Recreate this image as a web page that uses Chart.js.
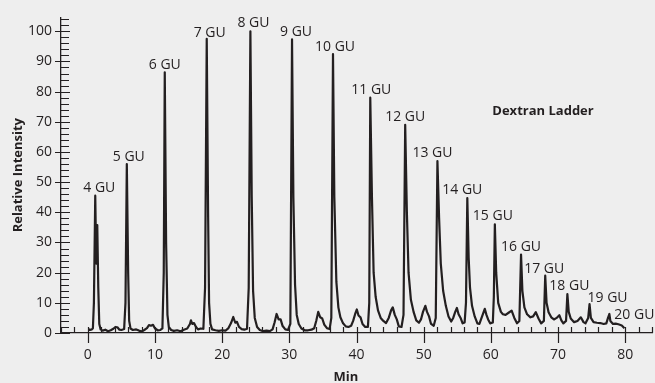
<!DOCTYPE html>
<html>
<head>
<meta charset="utf-8">
<script src="https://cdn.jsdelivr.net/npm/chart.js@4.4.1/dist/chart.umd.min.js"></script>
<style>
  html, body { margin: 0; padding: 0; background: #eeeeee; }
  canvas { display: block; }
</style>
</head>
<body>
<canvas id="ladder" width="655" height="383"></canvas>
<script>
var tiempos = [
  0.1, 0.3, 0.6, 0.75, 0.9, 1.1, 1.25, 1.4, 1.55, 1.7, 1.9, 2.2, 2.6, 3.0, 3.4, 3.8, 4.1, 4.4, 4.7, 5.0,
  5.4, 5.6, 5.8, 6.0, 6.15, 6.35, 6.7, 7.2, 7.6, 8.0, 8.4, 8.8, 9.1, 9.4, 9.7, 10.0, 10.4, 10.8, 11.1, 11.3,
  11.45, 11.65, 11.85, 12.05, 12.4, 12.8, 13.3, 13.8, 14.3, 14.8, 15.2, 15.35, 15.55, 15.8, 16.1, 16.4, 16.8, 17.2, 17.45, 17.7,
  17.9, 18.05, 18.25, 18.5, 19.0, 19.5, 20.0, 20.5, 20.9, 21.3, 21.65, 21.95, 22.2, 22.5, 22.9, 23.3, 23.7, 23.95, 24.2, 24.4,
  24.6, 24.85, 25.2, 25.6, 26.1, 26.6, 27.1, 27.5, 27.8, 28.1, 28.4, 28.7, 29.0, 29.4, 29.8, 30.15, 30.4, 30.6, 30.85, 31.1,
  31.4, 31.8, 32.3, 32.8, 33.3, 33.7, 34.0, 34.3, 34.6, 34.9, 35.2, 35.6, 36.0, 36.25, 36.5, 36.7, 37.0, 37.3, 37.6, 38.0,
  38.4, 38.8, 39.2, 39.5, 39.8, 40.05, 40.3, 40.6, 40.9, 41.3, 41.7, 41.9, 42.05, 42.3, 42.55, 42.85, 43.2, 43.6, 44.0, 44.4,
  44.8, 45.15, 45.4, 45.7, 46.0, 46.3, 46.7, 47.0, 47.25, 47.5, 47.75, 48.1, 48.5, 48.9, 49.3, 49.6, 49.9, 50.25, 50.5, 50.8,
  51.1, 51.5, 51.8, 52.05, 52.3, 52.55, 52.9, 53.3, 53.7, 54.1, 54.4, 54.7, 54.95, 55.2, 55.5, 55.8, 56.1, 56.3, 56.5, 56.7,
  56.9, 57.2, 57.6, 58.0, 58.3, 58.7, 59.1, 59.35, 59.6, 59.9, 60.3, 60.45, 60.6, 60.8, 61.1, 61.5, 61.8, 62.2, 62.7, 63.1,
  63.5, 63.9, 64.25, 64.5, 64.7, 65.0, 65.4, 65.9, 66.3, 66.7, 67.1, 67.5, 67.9, 68.1, 68.3, 68.6, 69.0, 69.4, 69.8, 70.2,
  70.5, 70.8, 71.2, 71.4, 71.6, 71.9, 72.4, 72.9, 73.4, 73.8, 74.1, 74.5, 74.7, 74.9, 75.3, 75.8, 76.3, 76.8, 77.2, 77.45,
  77.65, 77.8, 78.2, 78.6, 79.0, 79.5, 79.9
];
var intensidad = [
  1.3, 1.0, 1.2, 1.6, 10, 45.5, 23, 35.8, 15, 3, 1.2, 0.8, 1.1, 0.6, 0.9, 1.4, 2.0, 1.9, 1.1, 1.0,
  1.3, 10, 56, 20, 4, 1.5, 1.0, 1.2, 0.8, 0.5, 1.0, 1.6, 2.6, 2.4, 2.7, 1.5, 0.9, 1.0, 1.5, 20,
  86.4, 30, 6, 2, 1.0, 0.7, 0.9, 0.6, 1.1, 1.5, 3.0, 4.2, 3.0, 3.3, 2.0, 1.2, 1.5, 1.4, 15, 97.5,
  40, 10, 3, 1.2, 0.9, 0.7, 0.9, 0.8, 1.5, 3.2, 5.3, 3.4, 3.7, 2.0, 1.3, 1.1, 1.4, 15, 100, 45,
  14, 5, 2, 1.0, 0.6, 0.8, 0.6, 1.2, 3.5, 6.3, 4.5, 4.5, 2.3, 1.2, 1.0, 3, 97.3, 45, 16, 6,
  3, 1.5, 0.9, 0.9, 1.1, 1.6, 4, 7.0, 5.2, 4.8, 2.8, 1.6, 1.3, 5, 92.4, 45, 17, 8.5, 5.2, 3.2,
  2.2, 2.0, 2.4, 4, 6.3, 7.8, 5.8, 5.2, 3.0, 2.0, 2.0, 10, 78, 45, 20, 12, 7.5, 5, 4.0, 3.3,
  5, 7.5, 8.5, 6.0, 4.5, 2.2, 2.0, 6, 69, 40, 20, 11, 7, 4.2, 3.4, 4.5, 7, 9.0, 7.0, 5.5,
  3.0, 2.4, 5, 57, 38, 23, 14, 9, 5.5, 3.8, 5, 7, 8.3, 6.2, 5.0, 3.2, 3.5, 10, 44.7, 25,
  15, 9, 5.5, 3.2, 3.0, 5.5, 8, 6, 4.5, 3.2, 3.5, 12, 36, 20, 10, 7.0, 6.2, 6.0, 6.8, 7.4,
  5.0, 3.2, 4, 26, 14, 8.5, 6.2, 5.2, 5.5, 6.9, 4.8, 3.2, 4, 19, 10, 6.9, 5.2, 4.5, 5.0, 5.9,
  4.2, 3.2, 4, 12.9, 7, 4.8, 3.6, 4.0, 5.2, 3.6, 3.2, 5, 9.6, 5, 3.6, 3.4, 3.3, 3.0, 3.2, 5,
  6.3, 4, 3.0, 3.1, 2.9, 2.5, 1.6
];

// Etiquetas de cada pico (unidades de glucosa) y su tiempo aproximado
var picosGU = ["4 GU", "5 GU", "6 GU", "7 GU", "8 GU", "9 GU", "10 GU", "11 GU", "12 GU",
  "13 GU", "14 GU", "15 GU", "16 GU", "17 GU", "18 GU", "19 GU", "20 GU"];
var tiemposGU = [1.1, 5.8, 11.45, 17.7, 24.2, 30.4, 36.5, 42.05, 47.25, 52.05, 56.5, 60.6, 64.5, 68.1, 71.4, 74.7, 77.65];

// Marcas de los ejes
var ticksX = [0, 10, 20, 30, 40, 50, 60, 70, 80];
var ticksY = [0, 10, 20, 30, 40, 50, 60, 70, 80, 90, 100];

var tinta = "#231f20";
var fuente = "'Open Sans', 'Noto Sans', sans-serif";

// desplazamiento (px) de cada etiqueta respecto a la cima del pico
var ajusteEtiqueta = [
  [4, -8], [2, -7], [0, -7], [3, -6], [3, -8], [4, -7], [2, -7], [1, -8], [0, -8],
  [-5, -8], [-5, -8], [-2, -8], [0, -8], [-1, -7], [2, -8], [18, -6], [25, 1]
];

var puntos = tiempos.map(function (t, i) { return { x: t, y: intensidad[i] }; });

// Dibuja marcas mayores/menores, etiquetas de picos y textos sueltos
var decoracion = {
  id: "decoracion",
  afterDraw: function (chart) {
    var ctx = chart.ctx;
    var sx = chart.scales.x, sy = chart.scales.y;
    var x0 = sx.left, y0 = sy.bottom;
    ctx.save();
    ctx.strokeStyle = tinta;
    ctx.lineWidth = 1.2;
    ctx.beginPath();
    // eje x: menores cada 2 min hacia dentro, mayores hacia fuera
    for (var v = -4; v <= 84; v += 2) {
      var px = Math.round(sx.getPixelForValue(v)) + 0.5;
      if (v % 10 === 0 && v >= 0 && v <= 80) {
        ctx.moveTo(px, y0 - 6); ctx.lineTo(px, y0 + 10);
      } else {
        ctx.moveTo(px, y0); ctx.lineTo(px, y0 - 6);
      }
    }
    // eje y
    for (var w = 0; w <= 104; w += 2) {
      var py = Math.round(sy.getPixelForValue(w)) + 0.5;
      if (w % 10 === 0) {
        ctx.moveTo(x0 - 6, py); ctx.lineTo(x0 + 9, py);
      } else {
        ctx.moveTo(x0, py); ctx.lineTo(x0 + 8, py);
      }
    }
    ctx.stroke();

    ctx.fillStyle = tinta;
    ctx.font = "14px " + fuente;
    ctx.textAlign = "center";
    ctx.textBaseline = "middle";
    picosGU.forEach(function (nombre, k) {
      var mejor = -1;
      for (var i = 0; i < tiempos.length; i++) {
        if (Math.abs(tiempos[i] - tiemposGU[k]) < 0.5 && (mejor < 0 || intensidad[i] > intensidad[mejor])) mejor = i;
      }
      var cx = sx.getPixelForValue(tiempos[mejor]) + ajusteEtiqueta[k][0];
      var cy = sy.getPixelForValue(intensidad[mejor]) + ajusteEtiqueta[k][1];
      ctx.fillText(nombre, cx, cy);
    });

    ctx.font = "bold 13px " + fuente;
    ctx.fillText("Dextran Ladder", 543, 111);
    ctx.fillText("Min", 346, 377);
    ctx.restore();
  }
};

var ctx = document.getElementById("ladder").getContext("2d");
var grafico = new Chart(ctx, {
  type: "line",
  data: {
    datasets: [{
      data: puntos,
      borderColor: tinta,
      borderWidth: 2.2,
      borderJoinStyle: "round",
      pointRadius: 0,
      tension: 0,
      fill: false
    }]
  },
  options: {
    responsive: false,
    animation: false,
    devicePixelRatio: 1,
    layout: { padding: { top: 13, right: 3, left: 0, bottom: 0 } },
    plugins: { legend: { display: false }, tooltip: { enabled: false } },
    scales: {
      x: {
        type: "linear",
        min: -4,
        max: 84,
        grid: { display: false, drawTicks: false },
        border: { display: true, color: tinta, width: 1.3 },
        afterBuildTicks: function (s) { s.ticks = ticksX.map(function (v) { return { value: v }; }); },
        afterFit: function (s) { s.height = 50; },
        ticks: { color: tinta, font: { family: fuente, size: 14 }, padding: 14, maxRotation: 0, autoSkip: false }
      },
      y: {
        min: 0,
        max: 104.6,
        grid: { display: false, drawTicks: false },
        border: { display: true, color: tinta, width: 1.3 },
        afterBuildTicks: function (s) { s.ticks = ticksY.map(function (v) { return { value: v }; }); },
        afterFit: function (s) { s.width = 61; },
        ticks: { color: tinta, font: { family: fuente, size: 14 }, padding: 9, autoSkip: false },
        title: {
          display: true,
          text: "Relative Intensity",
          color: tinta,
          font: { family: fuente, size: 13, weight: "bold" },
          padding: { top: 10, bottom: 0 }
        }
      }
    }
  },
  plugins: [decoracion]
});
</script>
</body>
</html>
